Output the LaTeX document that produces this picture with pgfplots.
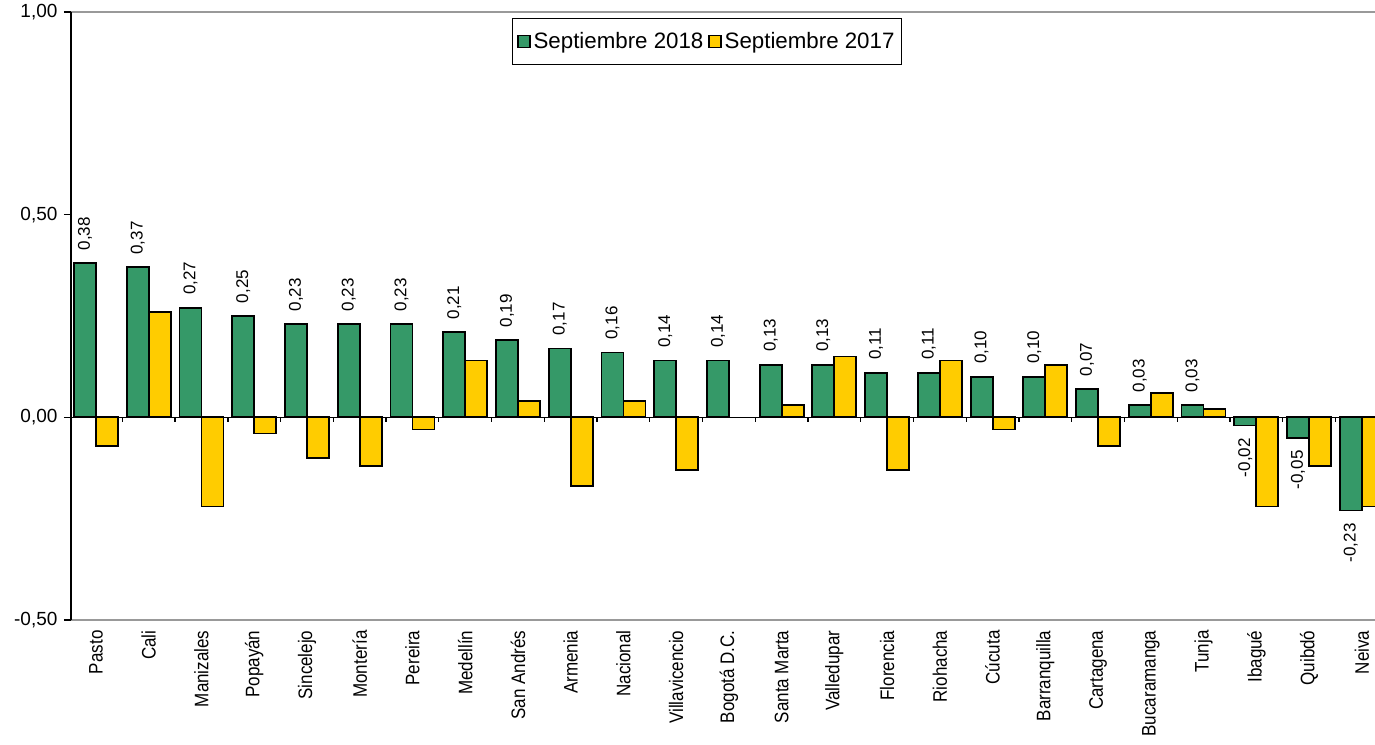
\documentclass[border=0pt]{standalone}
\usepackage{fontspec}
\setmainfont{Liberation Sans}
\usepackage{pgfplots}
\pgfplotsset{compat=1.18}
\definecolor{vgreen}{RGB}{53,153,104}
\definecolor{vyellow}{RGB}{255,204,0}
\begin{document}
\begin{tikzpicture}
\begin{axis}[
  scale only axis,
  width=1304pt, height=608pt,
  xmin=-0.474, xmax=24.25,
  ymin=-0.5, ymax=1.0,
  axis x line*=box,
  axis y line*=left,
  x axis line style={gray!80, line width=1.3pt},
  y axis line style={black, line width=2pt},
  ytick={-0.5,0,0.5,1},
  tick align=outside,
  major tick length=7pt,
  ytick style={black, line width=1.3pt},
  xtick style={draw=none},
  xtick={0,...,24},
  xticklabels={Pasto,Cali,Manizales,Popayán,Sincelejo,Montería,Pereira,Medellín,San Andrés,Armenia,Nacional,Villavicencio,Bogotá D.C.,Santa Marta,Valledupar,Florencia,Riohacha,Cúcuta,Barranquilla,Cartagena,Bucaramanga,Tunja,Ibagué,Quibdó,Neiva},
  xticklabel style={rotate=90, yscale=1.15, anchor=east, font=\fontsize{17}{17}\selectfont},
  yticklabel style={font=\fontsize{19}{19}\selectfont, xshift=-3pt},
  /pgf/number format/fixed,
  /pgf/number format/fixed zerofill,
  /pgf/number format/precision=2,
  /pgf/number format/use comma,
  /pgf/number format/assume math mode=true,
  ybar=0pt,
  bar width=22pt,
  legend image code/.code={\draw[#1, line width=1.2pt] (0pt,-6pt) rectangle (12pt,6pt);},
  legend style={at={(0.338,0.99)}, anchor=north west, draw=black, line width=1.3pt,
    font=\fontsize{22.3}{22.3}\selectfont, inner xsep=5pt, inner ysep=12pt,
    /tikz/every even column/.append style={column sep=3pt},
    /tikz/every odd column/.append style={column sep=1pt}},
  legend columns=-1,
]
\addplot[fill=vgreen, draw=black, line width=1.8pt,
  point meta=y,
  visualization depends on={rawy \as \rawy},
  nodes near coords,
  nodes near coords style={font=\fontsize{17}{17}\selectfont, rotate=90, inner xsep=12pt, inner ysep=0pt,
    anchor=\ifdim\rawy pt<0pt east\else west\fi},
] coordinates {
(0,0.38) (1,0.37) (2,0.27) (3,0.25) (4,0.23) (5,0.23) (6,0.23) (7,0.21) (8,0.19) (9,0.17)
(10,0.16) (11,0.14) (12,0.14) (13,0.13) (14,0.13) (15,0.11) (16,0.11) (17,0.10) (18,0.10) (19,0.07)
(20,0.03) (21,0.03) (22,-0.02) (23,-0.05) (24,-0.23)
};
\addlegendentry{Septiembre 2018}
\addplot[fill=vyellow, draw=black, line width=1.8pt] coordinates {
(0,-0.07) (1,0.26) (2,-0.22) (3,-0.04) (4,-0.10) (5,-0.12) (6,-0.03) (7,0.14) (8,0.04) (9,-0.17)
(10,0.04) (11,-0.13) (13,0.03) (14,0.15) (15,-0.13) (16,0.14) (17,-0.03) (18,0.13) (19,-0.07)
(20,0.06) (21,0.02) (22,-0.22) (23,-0.12) (24,-0.22)
};
\addlegendentry{Septiembre 2017}
\draw[black, line width=1.5pt] (axis cs:-0.474,0) -- (axis cs:24.25,0);
\pgfplotsinvokeforeach{0,...,23}{\draw[black, line width=1.3pt] (axis cs:#1.5,0) -- ++(0pt,-5pt);}
\end{axis}
\pgfresetboundingbox
\useasboundingbox (-71pt,-124pt) rectangle (1304pt,620pt);
\end{tikzpicture}
\end{document}
